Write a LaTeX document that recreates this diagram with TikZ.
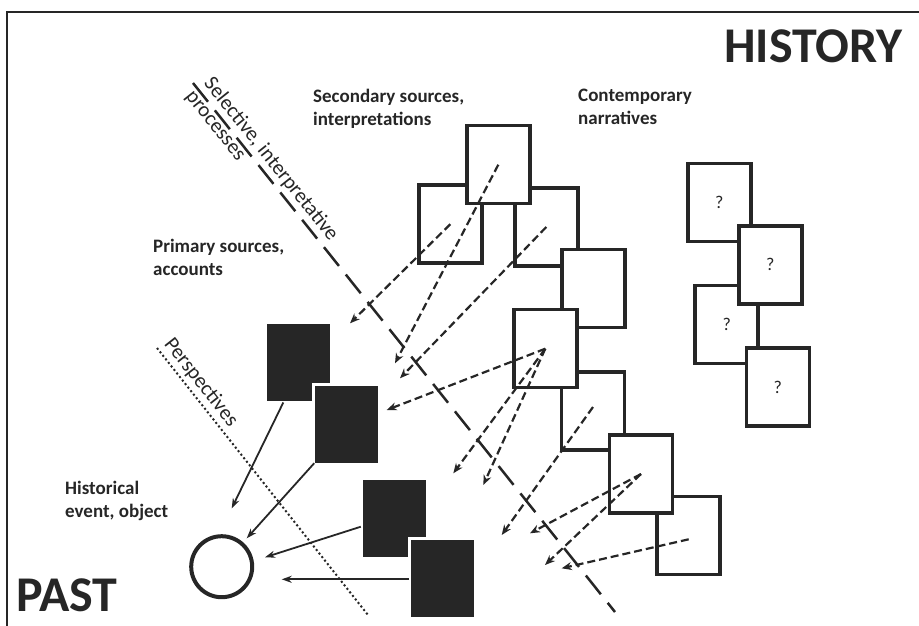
\documentclass[tikz,border=0pt]{standalone}
\usepackage{fontspec}
\setmainfont{Carlito}
\usetikzlibrary{arrows.meta,calc}
\definecolor{ink}{HTML}{262626}
\begin{document}
\begin{tikzpicture}[x=1pt,y=-1pt,
  every node/.style={text=ink},
  lbl/.style={font=\bfseries\fontsize{19}{23}\selectfont, align=left, anchor=north west, inner sep=0pt},
  title/.style={font=\bfseries\fontsize{50}{50}\selectfont, inner sep=0pt},
  along/.style={font=\fontsize{21}{23}\selectfont, sloped, inner sep=3pt},
  src/.style={draw=ink, fill=white, line width=3.5pt, minimum width=63pt, minimum height=78pt, inner sep=0pt},
  unk/.style={src, font=\fontsize{18}{20}\selectfont},
  prim/.style={draw=white, fill=ink, line width=3pt, minimum width=66pt, minimum height=80pt, inner sep=0pt},
  pointer/.style={draw=ink, line width=1.8pt, -{Stealth[length=10pt,width=7pt]}},
  derive/.style={draw=ink, line width=2.2pt, dash pattern=on 8pt off 4pt, -{Stealth[length=10pt,width=8pt]}},
]
\useasboundingbox (0,0) rectangle (919,625);

% frame
\draw[ink, line width=2.5pt] (7,630) -- (7,12) -- (925,12);

% titles
\node[title, anchor=base east] (hist) at (903,62) {HISTORY};
\node[title, anchor=base west] (past) at (16,611) {PAST};

% labels
\node[lbl] (seclbl) at (313,89) {Secondary sources,\\interpretations};
\node[lbl] (conlbl) at (578,89) {Contemporary\\narratives};
\node[lbl] (primlbl) at (153,239) {Primary sources,\\accounts};
\node[lbl] (evlbl) at (65,481) {Historical\\event, object};

% dividing lines
\coordinate (sel1) at (193,83);
\coordinate (sel2) at (615,612);
\draw[ink, line width=2.5pt, dash pattern=on 24pt off 11pt] (sel1) -- (sel2)
  node[along, pos=0.16, anchor=south] (seltxt) {Selective, interpretative}
  node[along, pos=0.07, anchor=north] (proctxt) {processes};
\coordinate (per1) at (157,348);
\coordinate (per2) at (368,615);
\draw[ink, line width=2pt, dash pattern=on 2pt off 2.5pt] (per1) -- (per2)
  node[along, pos=0.16, anchor=south] (pertxt) {Perspectives};

% secondary sources
\node[src] (B) at (450.3,224.2) {};
\node[src] (C) at (546.3,227) {};
\node[src] (A) at (498.3,164.7) {};
\node[src] (D) at (593.7,288.7) {};
\node[src] (F) at (593,411) {};
\node[src] (E) at (545.3,348.7) {};
\node[src] (H) at (688.7,535.3) {};
\node[src] (G) at (641,474) {};

% contemporary narratives
\node[unk] (Q1) at (719.3,202.7) {?};
\node[unk] (Q3) at (726.7,324.5) {?};
\node[unk] (Q2) at (770.3,264.8) {?};
\node[unk] (Q4) at (777.8,387) {?};

% primary sources
\node[prim] (P1) at (298.3,362) {};
\node[prim] (P2) at (346.7,424.7) {};
\node[prim] (P3) at (394.3,518.7) {};
\node[prim] (P4) at (442.5,578) {};

% historical event
\node[circle, draw=ink, line width=4pt, minimum size=61pt, inner sep=0pt] (event) at (221.7,566.7) {};

% free ends of the dashed arrows
\coordinate (d1) at (350,323.3);
\coordinate (d2) at (395,363.3);
\coordinate (d3) at (400,378.3);
\coordinate (d4) at (386.7,410);
\coordinate (d5) at (453.3,473.3);
\coordinate (d6) at (483.3,485);
\coordinate (d7) at (501.7,535);
\coordinate (d8) at (530,533.3);
\coordinate (d9) at (545,565);
\coordinate (d10) at (561.7,568.3);

\draw[derive] (B.center) -- (d1);
\draw[derive] (A.center) -- (d2);
\draw[derive] (C.center) -- (d3);
\draw[derive] (E.center) -- (d4);
\draw[derive] (E.center) -- (d5);
\draw[derive] (E.center) -- (d6);
\draw[derive] ($(F.center)+(0,-4)$) -- (d7);
\draw[derive] (G.center) -- (d8);
\draw[derive] (G.center) -- (d9);
\draw[derive] ($(H.center)+(0,4)$) -- (d10);

% free ends of the solid arrows
\coordinate (e1) at (231.7,508.3);
\coordinate (e2) at (246.7,538.3);
\coordinate (e3) at (265,557.3);
\coordinate (e4) at (281.7,579.3);

\draw[pointer] ($(P1.south)+(-15,-1)$) -- (e1);
\draw[pointer] ($(P2.south west)+(2,-3)$) -- (e2);
\draw[pointer] ($(P3.west)+(1,8)$) -- (e3);
\draw[pointer] ($(P4.west)+(1,1.3)$) -- (e4);
\end{tikzpicture}
\end{document}
